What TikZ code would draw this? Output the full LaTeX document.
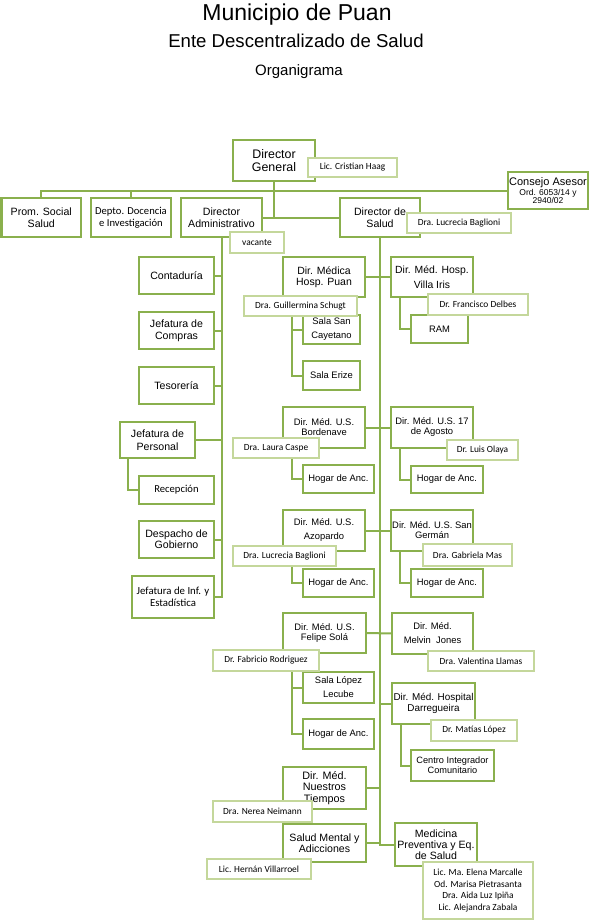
\documentclass[tikz,border=0pt]{standalone}
\usepackage{fontspec}
\setmainfont{Liberation Sans}
\newfontfamily\carl{Carlito}
\definecolor{gr}{HTML}{8AB04D}
\definecolor{lg}{HTML}{C4D79B}
\pgfdeclarelayer{bg}
\pgfsetlayers{bg,main}
\newcommand\fsz[2]{\fontsize{#1}{#2}\selectfont}
\newcommand\bx[7][]{\node[box,#1,minimum width={(#5-#3)*1pt},minimum height={(#6-#4)*1pt}] (#2) at ({(#3+#5)/2},{(#4+#6)/2}) {#7};}
\newcommand\nb[7][]{\node[nm,#1,minimum width={(#5-#3)*1pt},minimum height={(#6-#4)*1pt}] (#2) at ({(#3+#5)/2},{(#4+#6)/2}) {#7};}
\tikzset{
  box/.style={draw=gr, line width=2.4pt, fill=white, inner sep=0pt, outer sep=0pt, align=center, font=\fsz{10.6}{12}},
  nm/.style={draw=lg, line width=1.1pt, fill=white, inner sep=0pt, outer sep=0pt, align=center, font=\carl\fsz{9.4}{11.7}},
  ln/.style={draw=gr, line width=2pt},
  fb/.style={font=\fsz{9.4}{#1}},
  fc/.style={font=\carl\fsz{10.6}{12}}
}
\begin{document}
\begin{tikzpicture}[x=1pt,y=-1pt]
\useasboundingbox (0,0) rectangle (596,920);
% titles
\node[font=\fsz{23}{23}, anchor=base, inner sep=0pt] (t1) at (297,21) {Municipio de Puan};
\node[font=\fsz{18.6}{18}, anchor=base, inner sep=0pt] (t2) at (296,48) {Ente Descentralizado de Salud};
\node[font=\fsz{15}{15}, anchor=base, inner sep=0pt] (t3) at (299,76) {Organigrama};
% top level
\bx[font=\fsz{12.4}{13}]{dg}{233}{140}{315}{181}{Director\\General}
\bx{prom}{1.5}{198}{81}{237}{Prom. Social\\Salud}
\bx[fc]{depto}{91}{198}{171}{237}{Depto. Docencia\\e Investigación}
\bx{da}{181}{198}{262}{237}{Director\\Administrativo}
\bx{ds}{340}{198}{420}{237}{Director de\\Salud}
\bx[font=\fsz{8.5}{8.2}]{consejo}{508}{172}{588}{209}{\fsz{11}{8.2}Consejo Asesor\\\fsz{8.5}{8.2}Ord. 6053/14 y\\\fsz{8.5}{8.2}2940/02}
% administrative column
\bx{cont}{139}{257}{214}{294}{Contaduría}
\bx{comp}{139}{312}{214}{349}{Jefatura de\\Compras}
\bx{teso}{139}{367}{214}{404}{Tesorería}
\bx[font=\fsz{10.6}{13}]{jp}{120}{422}{195}{458}{Jefatura de\\Personal}
\bx[fc]{recep}{139}{476}{214}{504}{Recepción}
\bx[font=\fsz{10.6}{11}]{desp}{139}{521}{214}{558}{Despacho de\\Gobierno}
\bx[font=\carl\fsz{10.8}{11.5}]{jinf}{132}{576}{214}{618}{Jefatura de Inf. y\\Estadística}
% health column
\bx[font=\fsz{10.5}{11}]{puan}{283}{257}{365}{297}{Dir. Médica\\Hosp. Puan}
\bx[font=\fsz{10.4}{15}]{villa}{391}{257}{473}{297}{Dir. Méd. Hosp.\\Villa Iris}
\bx[fb=14]{sancay}{303}{315}{360}{344}{Sala San\\Cayetano}
\bx[fb=11]{erize}{303}{361}{360}{390}{Sala Erize}
\bx[fb=11]{ram}{411}{315}{468}{343}{RAM}
\bx[fb=10]{bord}{283}{407}{365}{448}{Dir. Méd. U.S.\\Bordenave}
\bx[fb=10]{ago}{391}{407}{473}{448}{Dir. Méd. U.S. 17\\de Agosto}
\bx[fb=11]{hog1}{303}{465}{374}{493}{Hogar de Anc.}
\bx[fb=11]{hog2}{411}{466}{483}{493}{Hogar de Anc.}
\bx[fb=14]{azo}{283}{510}{365}{551}{Dir. Méd. U.S.\\Azopardo}
\bx[fb=10]{sger}{391}{510}{473}{551}{Dir. Méd. U.S. San\\Germán}
\bx[fb=11]{hog3}{303}{569}{374}{597}{Hogar de Anc.}
\bx[fb=11]{hog4}{411}{569}{483}{597}{Hogar de Anc.}
\bx[fb=10]{fsola}{283}{613}{366}{653}{Dir. Méd. U.S.\\Felipe Solá}
\bx[fb=14]{melvin}{392}{613}{473}{654}{Dir. Méd.\\Melvin\ \ Jones}
\bx[fb=14]{lopez}{303}{672}{374}{703}{Sala López\\Lecube}
\bx[fb=11]{hog5}{303}{719}{374}{749}{Hogar de Anc.}
\bx[font=\fsz{9.9}{10.7}]{darr}{392}{683}{475}{724}{Dir. Méd. Hospital\\Darregueira}
\bx[font=\fsz{9.2}{9.8}]{centro}{411}{750}{494}{781}{Centro Integrador\\Comunitario}
\bx[font=\fsz{10.8}{11.5}]{ntiempos}{283}{767}{366}{809}{Dir. Méd.\\Nuestros\\Tiempos}
\bx[font=\fsz{10.6}{11}]{smental}{283}{824}{366}{862}{Salud Mental y\\Adicciones}
\bx[font=\fsz{10.6}{11}]{medprev}{395}{823}{477}{866}{Medicina\\Preventiva y Eq.\\de Salud}
% name boxes
\nb{ndg}{308}{158}{397}{177}{Lic. Cristian Haag}
\nb{nda}{230}{232}{284}{253}{vacante}
\nb{nds}{407}{213}{511}{233}{Dra. Lucrecia Baglioni}
\nb{npuan}{244}{296}{357}{316}{Dra. Guillermina Schugt}
\nb{nvilla}{428}{294}{528}{315}{Dr. Francisco Delbes}
\nb{nbord}{233}{438}{319}{458}{Dra. Laura Caspe}
\nb{nago}{447}{440}{518}{460}{Dr. Luis Olaya}
\nb{nazo}{233}{546}{336}{566}{Dra. Lucrecia Baglioni}
\nb{nsger}{423}{544}{512}{566}{Dra. Gabriela Mas}
\nb{nfsola}{213}{650}{319}{671}{Dr. Fabricio Rodriguez}
\nb{nmelvin}{428}{651}{534}{671}{Dra. Valentina Llamas}
\nb{ndarr}{431}{720}{517}{741}{Dr. Matías López}
\nb{nnt}{213}{801}{312}{822}{Dra. Nerea Neimann}
\nb{nsm}{207}{859}{311}{879}{Lic. Hernán Villarroel}
\nb{nmp}{423}{862}{533}{919}{Lic. Ma. Elena Marcalle\\Od. Marisa Pietrasanta\\Dra. Aida Luz Ipiña\\Lic. Alejandra Zabala}
% connectors
\begin{pgfonlayer}{bg}
\draw[ln] (dg.south) -- (dg.south |- da.east);
\draw[ln] (da.east) -- (ds.west);
\draw[ln] (prom.north) |- (consejo.west);
\draw[ln] (depto.north) -- (depto.north |- consejo.west);
\draw[ln] (da.south) |- (jinf.east);
\foreach \b in {cont,comp,teso,jp,desp}
  \draw[ln] (\b.east) -- (\b.east -| da.south);
\draw[ln] ([xshift=8pt]jp.south west) |- (recep.west);
\draw[ln] (ds.south) |- (medprev.west);
\draw[ln] (puan.east) -- (villa.west);
\draw[ln] (bord.east) -- (ago.west);
\draw[ln] (azo.east) -- (sger.west);
\draw[ln] (fsola.east) -- (melvin.west);
\draw[ln] (ntiempos.east) -- (ntiempos.east -| ds.south);
\draw[ln] (smental.east) -- (smental.east -| ds.south);
\draw[ln] (darr.west) -- (darr.west -| ds.south);
\draw[ln] ([xshift=9pt]puan.south west) |- (erize.west);
\draw[ln] ([xshift=9pt]puan.south west) |- (sancay.west);
\draw[ln] ([xshift=9pt]villa.south west) |- (ram.west);
\draw[ln] ([xshift=9pt]bord.south west) |- (hog1.west);
\draw[ln] ([xshift=9pt]ago.south west) |- (hog2.west);
\draw[ln] ([xshift=9pt]azo.south west) |- (hog3.west);
\draw[ln] ([xshift=9pt]sger.south west) |- (hog4.west);
\draw[ln] ([xshift=9pt]fsola.south west) |- (hog5.west);
\draw[ln] ([xshift=9pt]fsola.south west) |- (lopez.west);
\draw[ln] ([xshift=9pt]darr.south west) |- (centro.west);
\end{pgfonlayer}
\end{tikzpicture}
\end{document}
